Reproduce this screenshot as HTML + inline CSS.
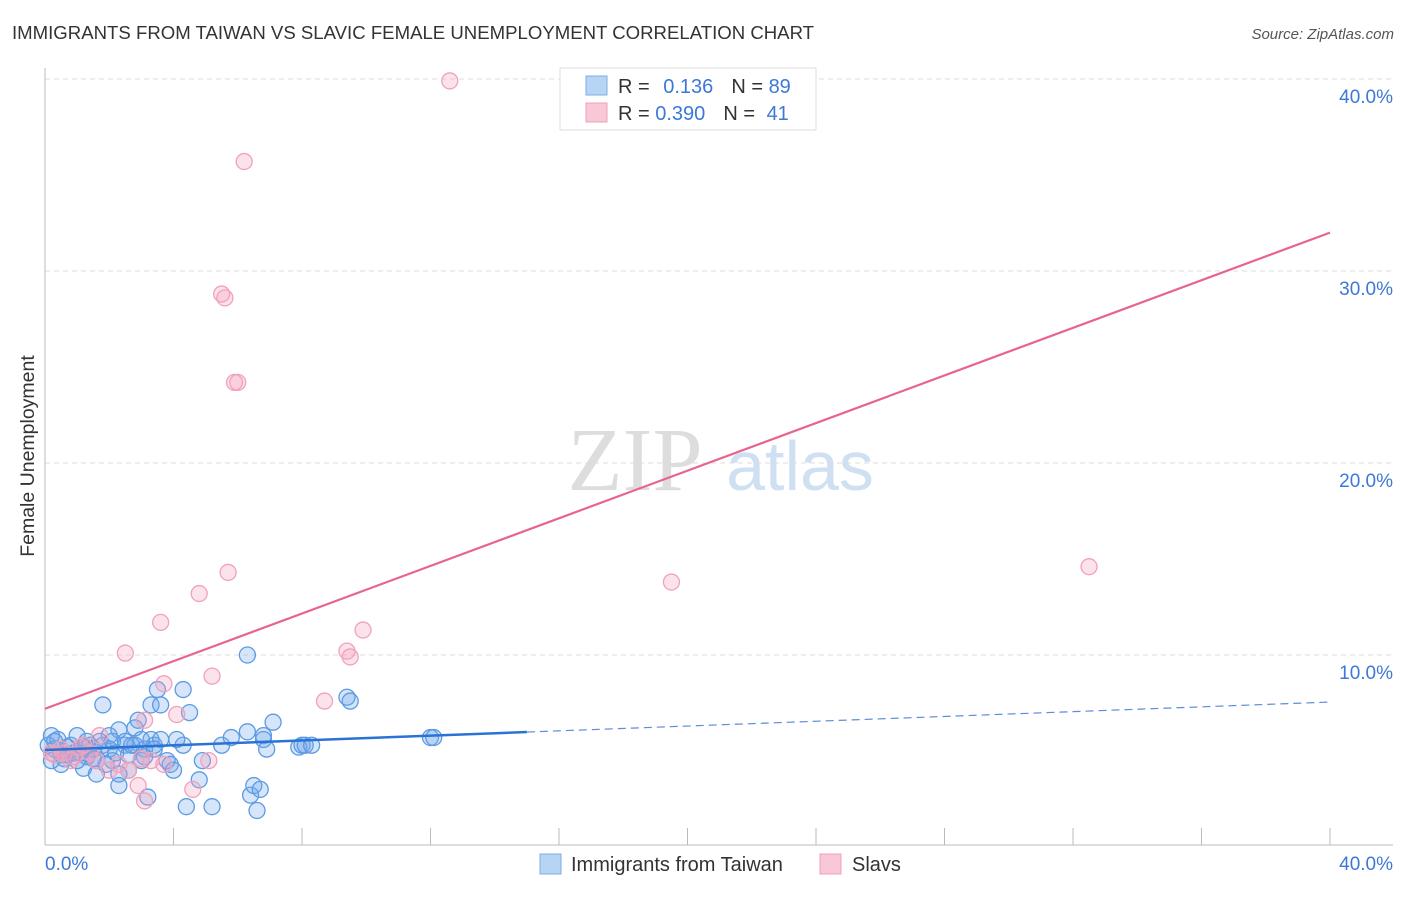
<!DOCTYPE html>
<html><head><meta charset="utf-8"><style>
body{margin:0;background:#fff;font-family:"Liberation Sans",sans-serif}
</style></head><body>
<svg width="1406" height="892" xmlns="http://www.w3.org/2000/svg" style="font-family:'Liberation Sans',sans-serif">
<text x="12" y="39" font-size="18.6" fill="#333">IMMIGRANTS FROM TAIWAN VS SLAVIC FEMALE UNEMPLOYMENT CORRELATION CHART</text>
<text x="1394" y="39" font-size="15" fill="#555" text-anchor="end" font-style="italic">Source: ZipAtlas.com</text>
<g>
<text x="635" y="490" font-size="90" fill="#ddd" font-family="Liberation Serif,serif" text-anchor="middle">ZIP</text>
<text x="800" y="490" font-size="70" fill="#cfe0f3" text-anchor="middle">atlas</text>
</g>
<g id="grid"></g>
<line x1="45" y1="68" x2="45" y2="845" stroke="#bbb"/>
<line x1="45" y1="845" x2="1393" y2="845" stroke="#bbb"/>
<text transform="translate(34,456) rotate(-90)" font-size="19.5" fill="#333" text-anchor="middle">Female Unemployment</text>
<text x="45" y="870" font-size="19" fill="#3d78d8">0.0%</text>
<text x="1393" y="870" font-size="19" fill="#3d78d8" text-anchor="end">40.0%</text>
<g id="marks"></g>
<g>
<rect x="560" y="68" width="256" height="62" fill="#fff" stroke="#ddd"/>
<rect x="586" y="76" width="21" height="19" fill="#b8d4f5" stroke="#7aaee8"/>
<rect x="586" y="103" width="21" height="19" fill="#f9c8d6" stroke="#f0a0b8"/>
<text x="618" y="93" font-size="20" fill="#333">R = <tspan fill="#3d78d8" dx="8">0.136</tspan><tspan dx="18">N = </tspan><tspan fill="#3d78d8">89</tspan></text>
<text x="618" y="120" font-size="20" fill="#333">R = <tspan fill="#3d78d8">0.390</tspan><tspan dx="18">N = </tspan><tspan fill="#3d78d8" dx="6">41</tspan></text>
</g>
<g>
<rect x="540" y="854" width="21" height="20" fill="#b8d4f5" stroke="#7aaee8"/>
<text x="571" y="871" font-size="20" fill="#333">Immigrants from Taiwan</text>
<rect x="820" y="854" width="21" height="20" fill="#f9c8d6" stroke="#f0a0b8"/>
<text x="852" y="871" font-size="20" fill="#333">Slavs</text>
</g>
</svg>
<script>
const yTicks=[10,20,30,40];
const yTickLabels=["10.0%","20.0%","30.0%","40.0%"];
const xTicks=[4,8,12,16,20,24,28,32,36,40];
const blueX=[0.1,0.2,0.3,0.4,0.5,0.7,0.8,0.9,1.0,1.2,1.3,1.4,1.5,1.6,1.8,1.8,2.0,2.0,2.1,2.3,2.3,2.5,2.6,2.6,2.8,2.8,2.9,3.0,3.1,3.1,3.2,3.3,3.3,3.4,3.5,3.6,3.6,3.8,3.9,4.0,4.3,4.3,4.4,4.5,4.8,4.9,5.2,5.5,5.8,6.3,6.3,6.4,6.5,6.6,6.7,6.8,6.8,6.9,7.1,7.9,8.0,8.1,8.3,9.4,9.5,12.0,12.1,1.2,1.6,1.9,2.3,0.5,0.2,0.6,1.0,1.3,1.7,2.1,2.5,3.0,2.2,1.5,0.3,0.7,1.1,2.7,3.4,4.1];
const blueY=[5.3,5.8,5.1,5.6,4.8,5.2,5.3,4.9,5.8,5.2,4.7,5.3,5.1,4.5,7.4,5.3,5.8,5.1,4.5,3.2,6.1,5.3,4.8,4.0,6.2,5.3,6.6,4.5,5.1,4.7,2.6,7.4,5.6,5.3,8.2,7.4,5.6,4.5,4.3,4.0,8.2,5.3,2.1,7.0,3.5,4.5,2.1,5.3,5.7,10.0,6.0,2.7,3.2,1.9,3.0,5.8,5.6,5.1,6.5,5.2,5.3,5.3,5.3,7.8,7.6,5.7,5.7,4.1,3.8,4.3,3.8,4.3,4.5,4.6,4.5,5.5,5.5,5.5,5.5,5.6,4.9,4.6,5.5,4.8,4.9,5.3,5.1,5.6];
const pinkX=[12.6,6.2,5.5,5.6,5.9,6.0,5.7,4.8,3.6,2.5,9.9,9.4,9.5,5.2,3.7,4.1,8.7,3.1,19.5,32.5,1.7,5.1,4.6,3.1,2.9,0.2,0.3,0.5,0.8,1.1,1.4,2.0,2.3,2.6,3.0,3.3,3.7,1.2,0.9,0.6,1.6];
const pinkY=[39.9,35.7,28.8,28.6,24.2,24.2,14.3,13.2,11.7,10.1,11.3,10.2,9.9,8.9,8.5,6.9,7.6,6.6,13.8,14.6,5.8,4.5,3.0,2.4,3.2,4.9,4.8,5.1,4.5,5.2,4.9,4.0,4.3,4.0,4.6,4.5,4.3,5.3,4.7,4.9,4.5];
const blueTrend=[5.05,0.0625];
const pinkTrend=[7.2,0.62];
const NS="http://www.w3.org/2000/svg";
const sx=v=>45+v*(1285/40), sy=v=>847-v*19.2;
function mk(t,a,p){const e=document.createElementNS(NS,t);for(const k in a)e.setAttribute(k,a[k]);p.appendChild(e);return e;}
const grid=document.getElementById('grid'), marks=document.getElementById('marks');
yTicks.forEach((t,i)=>{
 const l=mk('line',{x1:45,x2:1393,y1:sy(t),y2:sy(t),stroke:'#ddd','stroke-dasharray':'5,4'},grid);
 
 
 const tx=mk('text',{x:1393,y:sy(t)+24,'font-size':19,fill:'#3d78d8','text-anchor':'end'},grid);
 tx.textContent=yTickLabels[i];
 
 
});
xTicks.forEach(t=>{
 const l=mk('line',{x1:sx(t),x2:sx(t),y1:828,y2:845,stroke:'#bbb'},grid);
 
 
});
blueX.forEach((x,i)=>{
 const c=mk('circle',{cx:sx(x),cy:sy(blueY[i]),r:8,fill:'rgba(120,170,235,0.3)',stroke:'#5b9be3','stroke-width':1.3},marks);
 
 
});
pinkX.forEach((x,i)=>{
 const c=mk('circle',{cx:sx(x),cy:sy(pinkY[i]),r:8,fill:'rgba(245,160,190,0.3)',stroke:'#f0a2bb','stroke-width':1.3},marks);
 
 
});
const b1=mk('line',{x1:sx(0),y1:sy(blueTrend[0]),x2:sx(15),y2:sy(blueTrend[0]+15*blueTrend[1]),stroke:'#2a72d4','stroke-width':2.5},marks);


const b2=mk('line',{x1:sx(15),y1:sy(blueTrend[0]+15*blueTrend[1]),x2:sx(40),y2:sy(blueTrend[0]+40*blueTrend[1]),stroke:'#5b8fd8','stroke-width':1.2,'stroke-dasharray':'8,5'},marks);


const p1=mk('line',{x1:sx(0),y1:sy(pinkTrend[0]),x2:sx(40),y2:sy(pinkTrend[0]+40*pinkTrend[1]),stroke:'#e8648f','stroke-width':2.2},marks);


</script>
</body></html>
